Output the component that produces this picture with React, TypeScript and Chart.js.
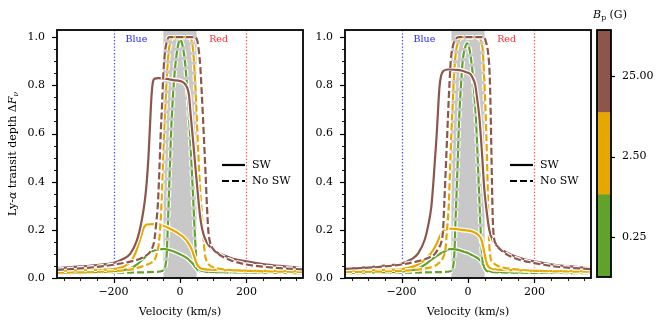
import React, { useEffect, useRef } from 'react';
import Chart from 'chart.js/auto';

type Pt = [number, number];

const FONT = "'DejaVu Serif', 'Liberation Serif', serif";

// ---------- data ----------
const X_MIN = -370;
const X_MAX = 370;
const Y_MIN = 0;
const Y_MAX = 1.03;
const X_MAJOR = [-200, 0, 200];
const Y_MAJOR = [0, 0.2, 0.4, 0.6, 0.8, 1.0];
const CORE_BAND: Pt = [-50, 50];
const BLUE_LINE = -200;
const RED_LINE = 200;

const B_LEVELS = ['0.25', '2.50', '25.00'];
const B_COLORS = ['#61a22a', '#e6a800', '#8c564b'];
const CBAR_BOUNDS = [0.08, 0.84, 8.8, 93];
const CBAR_TICKS = [0.25, 2.5, 25];

// Left panel
const L_SW_LOW: Pt[] = [[-370,0.022],[-250,0.025],[-200,0.028],[-150,0.04],[-130,0.055],[-110,0.08],[-90,0.105],[-75,0.115],[-60,0.12],[-45,0.12],[-30,0.115],[-10,0.105],[10,0.092],[25,0.078],[38,0.06],[48,0.042],[56,0.03],[70,0.026],[150,0.023],[370,0.02]];
const L_NOSW_LOW: Pt[] = [[-370,0.02],[-200,0.022],[-100,0.024],[-60,0.027],[-50,0.032],[-44,0.05],[-40,0.1],[-37,0.2],[-34,0.32],[-30,0.48],[-26,0.63],[-21,0.76],[-15,0.87],[-8,0.95],[0,0.99],[7,0.97],[14,0.91],[20,0.82],[25,0.72],[30,0.6],[35,0.46],[40,0.32],[44,0.2],[48,0.1],[52,0.05],[58,0.035],[70,0.028],[150,0.024],[370,0.02]];
const L_SW_MID: Pt[] = [[-370,0.03],[-300,0.032],[-250,0.034],[-200,0.037],[-170,0.047],[-150,0.065],[-135,0.1],[-120,0.16],[-110,0.205],[-100,0.222],[-80,0.224],[-65,0.222],[-50,0.217],[-30,0.205],[-10,0.19],[10,0.17],[25,0.145],[35,0.12],[45,0.08],[52,0.055],[60,0.042],[75,0.036],[100,0.034],[200,0.031],[370,0.028]];
const L_NOSW_MID: Pt[] = [[-370,0.022],[-250,0.025],[-200,0.028],[-150,0.035],[-120,0.045],[-100,0.055],[-85,0.065],[-75,0.08],[-68,0.11],[-64,0.14],[-60,0.2],[-56,0.3],[-52,0.45],[-48,0.6],[-44,0.72],[-39,0.85],[-34,0.94],[-28,0.99],[-22,1.0],[30,1.0],[36,0.98],[41,0.92],[46,0.8],[50,0.68],[55,0.52],[60,0.38],[64,0.3],[68,0.22],[72,0.14],[76,0.09],[82,0.065],[90,0.052],[100,0.045],[130,0.036],[200,0.03],[370,0.025]];
const L_SW_HIGH: Pt[] = [[-370,0.041],[-300,0.048],[-250,0.054],[-200,0.063],[-170,0.08],[-150,0.1],[-130,0.155],[-115,0.24],[-105,0.33],[-100,0.4],[-95,0.5],[-90,0.64],[-86,0.75],[-82,0.81],[-76,0.828],[-65,0.83],[-40,0.827],[-20,0.822],[0,0.818],[10,0.812],[20,0.795],[27,0.76],[32,0.68],[40,0.56],[47,0.45],[55,0.33],[62,0.24],[70,0.185],[80,0.15],[90,0.13],[100,0.115],[130,0.095],[160,0.08],[200,0.069],[250,0.058],[300,0.05],[370,0.041]];
const L_NOSW_HIGH: Pt[] = [[-370,0.034],[-300,0.04],[-250,0.046],[-200,0.055],[-150,0.068],[-120,0.08],[-100,0.095],[-85,0.12],[-78,0.15],[-72,0.22],[-66,0.32],[-62,0.45],[-58,0.6],[-54,0.72],[-50,0.85],[-45,0.94],[-40,0.98],[-33,1.0],[45,1.0],[52,0.985],[57,0.94],[61,0.88],[65,0.78],[69,0.67],[73,0.55],[77,0.43],[81,0.3],[85,0.2],[90,0.15],[100,0.12],[115,0.1],[150,0.075],[200,0.056],[250,0.047],[300,0.041],[370,0.036]];

// Right panel
const R_SW_LOW: Pt[] = [[-370,0.022],[-250,0.024],[-200,0.027],[-150,0.04],[-130,0.055],[-110,0.076],[-90,0.095],[-70,0.11],[-55,0.12],[-45,0.12],[-30,0.117],[-10,0.108],[0,0.104],[15,0.093],[30,0.082],[40,0.068],[48,0.05],[55,0.036],[65,0.028],[100,0.025],[370,0.022]];
const R_NOSW_LOW: Pt[] = [[-370,0.02],[-200,0.022],[-100,0.024],[-60,0.026],[-50,0.03],[-45,0.045],[-41,0.1],[-38,0.22],[-35,0.33],[-31,0.48],[-27,0.65],[-22,0.78],[-16,0.9],[-9,0.955],[-3,0.975],[3,0.96],[9,0.91],[14,0.85],[19,0.76],[24,0.66],[29,0.5],[34,0.33],[38,0.2],[42,0.1],[45,0.06],[50,0.04],[56,0.03],[70,0.025],[150,0.022],[370,0.02]];
const R_SW_MID: Pt[] = [[-370,0.03],[-300,0.032],[-250,0.034],[-200,0.037],[-170,0.045],[-150,0.056],[-130,0.075],[-110,0.105],[-95,0.14],[-82,0.18],[-70,0.2],[-58,0.205],[-40,0.204],[-20,0.2],[0,0.197],[15,0.192],[30,0.18],[40,0.16],[47,0.12],[52,0.085],[58,0.055],[68,0.04],[90,0.035],[150,0.032],[370,0.028]];
const R_NOSW_MID: Pt[] = [[-370,0.025],[-250,0.027],[-200,0.03],[-150,0.035],[-120,0.042],[-100,0.05],[-85,0.065],[-75,0.085],[-68,0.12],[-63,0.2],[-58,0.3],[-54,0.45],[-50,0.6],[-46,0.72],[-42,0.84],[-37,0.93],[-30,0.98],[-22,0.997],[-15,1.0],[33,1.0],[40,0.98],[44,0.95],[48,0.85],[52,0.72],[55,0.6],[58,0.45],[60,0.33],[62,0.22],[64,0.14],[67,0.09],[75,0.065],[90,0.05],[110,0.042],[150,0.035],[200,0.03],[370,0.026]];
const R_SW_HIGH: Pt[] = [[-370,0.038],[-300,0.045],[-250,0.052],[-200,0.06],[-170,0.078],[-150,0.102],[-130,0.16],[-118,0.23],[-110,0.3],[-104,0.4],[-99,0.5],[-94,0.6],[-90,0.7],[-86,0.79],[-81,0.84],[-74,0.86],[-60,0.866],[-40,0.865],[-20,0.862],[-5,0.855],[8,0.845],[16,0.825],[22,0.8],[28,0.74],[34,0.67],[42,0.52],[49,0.37],[55,0.29],[64,0.2],[75,0.155],[90,0.13],[110,0.11],[130,0.097],[160,0.082],[200,0.069],[250,0.057],[300,0.049],[370,0.041]];
const R_NOSW_HIGH: Pt[] = [[-370,0.038],[-300,0.043],[-250,0.048],[-200,0.056],[-150,0.07],[-120,0.083],[-100,0.1],[-88,0.125],[-80,0.15],[-75,0.2],[-71,0.32],[-67,0.45],[-63,0.58],[-60,0.68],[-56,0.8],[-52,0.9],[-46,0.96],[-38,0.99],[-28,1.0],[48,1.0],[54,0.98],[60,0.94],[65,0.85],[68,0.7],[70,0.55],[72,0.4],[74,0.27],[77,0.18],[85,0.14],[100,0.115],[120,0.095],[150,0.078],[200,0.062],[250,0.05],[300,0.043],[370,0.037]];

const LEFT_SERIES = [
  { sw: L_SW_LOW, nosw: L_NOSW_LOW },
  { sw: L_SW_MID, nosw: L_NOSW_MID },
  { sw: L_SW_HIGH, nosw: L_NOSW_HIGH },
];
const RIGHT_SERIES = [
  { sw: R_SW_LOW, nosw: R_NOSW_LOW },
  { sw: R_SW_MID, nosw: R_NOSW_MID },
  { sw: R_SW_HIGH, nosw: R_NOSW_HIGH },
];

// ---------- styling ----------
const TICK_SIZE = 11;
const LINE_W = 2.2;
const HALO_W = 4.6;
const DASH = [7, 3];

type Part = { t: string; italic?: boolean; sub?: boolean };

function drawRich(ctx: CanvasRenderingContext2D, parts: Part[], x: number, y: number, size: number, rotate: boolean) {
  ctx.save();
  ctx.translate(x, y);
  if (rotate) ctx.rotate(-Math.PI / 2);
  const fontFor = (p: Part) => `${p.italic ? 'italic ' : ''}${p.sub ? size * 0.7 : size}px ${FONT}`;
  let total = 0;
  const widths = parts.map((p) => {
    ctx.font = fontFor(p);
    const w = ctx.measureText(p.t).width;
    total += w;
    return w;
  });
  let cx = -total / 2;
  ctx.textBaseline = 'middle';
  ctx.textAlign = 'left';
  ctx.fillStyle = '#000';
  parts.forEach((p, i) => {
    ctx.font = fontFor(p);
    ctx.fillText(p.t, cx, p.sub ? size * 0.28 : 0);
    cx += widths[i];
  });
  ctx.restore();
}

function toXY(pts: Pt[]) {
  return pts.map(([x, y]) => ({ x, y }));
}

function buildDatasets(series: { sw: Pt[]; nosw: Pt[] }[]) {
  const ds: any[] = [];
  let order = 100;
  series.forEach((s, i) => {
    const color = B_COLORS[i];
    [
      { pts: s.sw, dash: [] as number[] },
      { pts: s.nosw, dash: DASH },
    ].forEach((ln) => {
      const common = {
        data: toXY(ln.pts),
        pointRadius: 0,
        cubicInterpolationMode: 'monotone',
        borderDash: ln.dash,
        borderCapStyle: 'butt',
        borderJoinStyle: 'round',
        fill: false,
      };
      ds.push({ ...common, borderColor: '#ffffff', borderWidth: HALO_W, order: order-- });
      ds.push({ ...common, borderColor: color, borderWidth: LINE_W, order: order-- });
    });
  });
  return ds;
}

const panelPlugin = (showYTitle: boolean) => ({
  id: 'panelDecor',
  beforeDatasetsDraw(chart: any) {
    const { ctx, chartArea: a, scales } = chart;
    const xs = scales.x;
    const ys = scales.y;
    ctx.save();
    ctx.beginPath();
    ctx.rect(a.left, a.top, a.right - a.left, a.bottom - a.top);
    ctx.clip();
    const x0 = xs.getPixelForValue(CORE_BAND[0]);
    const x1 = xs.getPixelForValue(CORE_BAND[1]);
    ctx.fillStyle = '#c8c8c8';
    ctx.fillRect(x0, a.top, x1 - x0, a.bottom - a.top);
    ctx.lineWidth = 1.3;
    ctx.setLineDash([1.3, 2]);
    [[BLUE_LINE, 'rgba(50,50,255,0.9)'], [RED_LINE, 'rgba(255,60,60,0.9)']].forEach(([v, c]) => {
      const px = Math.round(xs.getPixelForValue(v as number)) + 0.5;
      ctx.strokeStyle = c as string;
      ctx.beginPath();
      ctx.moveTo(px, a.top);
      ctx.lineTo(px, a.bottom);
      ctx.stroke();
    });
    ctx.setLineDash([]);
    ctx.font = `9.5px ${FONT}`;
    ctx.textAlign = 'center';
    ctx.textBaseline = 'middle';
    ctx.fillStyle = '#1f1fff';
    ctx.fillText('Blue', xs.getPixelForValue(-131), ys.getPixelForValue(0.99));
    ctx.fillStyle = '#ff2f2f';
    ctx.fillText('Red', xs.getPixelForValue(116), ys.getPixelForValue(0.99));
    ctx.restore();
  },
  afterDraw(chart: any) {
    const { ctx, chartArea: a, scales } = chart;
    const xs = scales.x;
    const ys = scales.y;
    ctx.save();
    // ticks
    ctx.strokeStyle = '#000';
    for (let i = -7; i <= 7; i++) {
      const v = i * 50;
      const px = Math.round(xs.getPixelForValue(v)) + 0.5;
      const major = v % 200 === 0;
      ctx.lineWidth = major ? 1.2 : 0.9;
      ctx.beginPath();
      ctx.moveTo(px, a.bottom);
      ctx.lineTo(px, a.bottom + (major ? 5 : 3));
      ctx.stroke();
    }
    for (let i = 0; i <= 20; i++) {
      const v = i * 0.05;
      const py = Math.round(ys.getPixelForValue(v)) + 0.5;
      const major = i % 4 === 0;
      ctx.lineWidth = major ? 1.2 : 0.9;
      ctx.beginPath();
      ctx.moveTo(a.left, py);
      ctx.lineTo(a.left - (major ? 5 : 3), py);
      ctx.stroke();
    }
    // frame
    ctx.lineWidth = 1.8;
    ctx.strokeRect(a.left, a.top, a.right - a.left, a.bottom - a.top);
    // legend
    const lx0 = a.right - 81;
    const lx1 = a.right - 58;
    const ly = [a.top + 135, a.top + 151];
    ctx.lineWidth = 2.2;
    ctx.strokeStyle = '#000';
    ctx.beginPath();
    ctx.moveTo(lx0, ly[0]);
    ctx.lineTo(lx1, ly[0]);
    ctx.stroke();
    ctx.setLineDash(DASH);
    ctx.beginPath();
    ctx.moveTo(lx0, ly[1]);
    ctx.lineTo(lx1, ly[1]);
    ctx.stroke();
    ctx.setLineDash([]);
    ctx.fillStyle = '#000';
    ctx.font = `${TICK_SIZE}px ${FONT}`;
    ctx.textAlign = 'left';
    ctx.textBaseline = 'middle';
    ctx.fillText('SW', a.right - 51, ly[0]);
    ctx.fillText('No SW', a.right - 51, ly[1]);
    ctx.restore();
    // titles
    drawRich(ctx, [{ t: 'Velocity (km/s)' }], (a.left + a.right) / 2, 312, TICK_SIZE, false);
    if (showYTitle) {
      drawRich(
        ctx,
        [
          { t: 'Ly-' },
          { t: 'α', italic: true },
          { t: ' transit depth Δ' },
          { t: 'F', italic: true },
          { t: 'ν', italic: true, sub: true },
        ],
        13,
        (a.top + a.bottom) / 2,
        TICK_SIZE,
        true
      );
    }
  },
});

function panelConfig(series: { sw: Pt[]; nosw: Pt[] }[], showYTitle: boolean): any {
  return {
    type: 'line',
    data: { datasets: buildDatasets(series) },
    options: {
      responsive: false,
      animation: false,
      events: [],
      layout: { padding: { left: 0, right: 12, top: 30, bottom: 0 } },
      plugins: { legend: { display: false }, tooltip: { enabled: false } },
      scales: {
        x: {
          type: 'linear',
          min: X_MIN,
          max: X_MAX,
          afterFit: (s: any) => { s.height = 50; },
          afterBuildTicks: (s: any) => { s.ticks = X_MAJOR.map((v) => ({ value: v })); },
          grid: { display: true, drawOnChartArea: false, color: 'rgba(0,0,0,0)', tickLength: 5 },
          border: { display: false },
          ticks: {
            color: '#000',
            font: { family: FONT, size: TICK_SIZE },
            padding: 3,
            maxRotation: 0,
            callback: (v: number) => (v < 0 ? '\u2212' + Math.abs(v) : String(v)),
          },
        },
        y: {
          type: 'linear',
          min: Y_MIN,
          max: Y_MAX,
          afterFit: (s: any) => { s.width = 57; },
          afterBuildTicks: (s: any) => { s.ticks = Y_MAJOR.map((v) => ({ value: v })); },
          grid: { display: true, drawOnChartArea: false, color: 'rgba(0,0,0,0)', tickLength: 5 },
          border: { display: false },
          ticks: {
            color: '#000',
            font: { family: FONT, size: TICK_SIZE },
            padding: 7,
            callback: (v: number) => v.toFixed(1),
          },
        },
      },
    },
    plugins: [panelPlugin(showYTitle)],
  };
}

function cbarConfig(): any {
  return {
    type: 'bar',
    data: {
      labels: [''],
      datasets: B_COLORS.map((c, i) => ({
        data: [[CBAR_BOUNDS[i], CBAR_BOUNDS[i + 1]]],
        backgroundColor: c,
        borderWidth: 0,
        barPercentage: 1,
        categoryPercentage: 1,
        grouped: false,
      })),
    },
    options: {
      responsive: false,
      animation: false,
      events: [],
      layout: { padding: { left: 7, right: 0, top: 30, bottom: 51 } },
      plugins: { legend: { display: false }, tooltip: { enabled: false } },
      scales: {
        x: { display: false },
        y: {
          type: 'logarithmic',
          position: 'right',
          min: CBAR_BOUNDS[0],
          max: CBAR_BOUNDS[3],
          afterFit: (s: any) => { s.width = 53; },
          afterBuildTicks: (s: any) => { s.ticks = CBAR_TICKS.map((v) => ({ value: v })); },
          grid: { display: true, drawOnChartArea: false, color: 'rgba(0,0,0,0)', tickLength: 4 },
          border: { display: false },
          ticks: {
            color: '#000',
            font: { family: FONT, size: TICK_SIZE },
            padding: 7,
            callback: (_v: number, i: number) => B_LEVELS[i],
          },
        },
      },
    },
    plugins: [
      {
        id: 'cbarDecor',
        afterDraw(chart: any) {
          const { ctx, chartArea: a, scales } = chart;
          ctx.save();
          ctx.strokeStyle = '#000';
          ctx.lineWidth = 1.2;
          CBAR_TICKS.forEach((v) => {
            const py = Math.round(scales.y.getPixelForValue(v)) + 0.5;
            ctx.beginPath();
            ctx.moveTo(a.right, py);
            ctx.lineTo(a.right + 4, py);
            ctx.stroke();
          });
          ctx.lineWidth = 1.8;
          ctx.strokeRect(a.left, a.top, a.right - a.left, a.bottom - a.top);
          ctx.restore();
          drawRich(
            ctx,
            [{ t: 'B', italic: true }, { t: 'p', sub: true }, { t: ' (G)' }],
            (a.left + a.right) / 2 + 6,
            15,
            TICK_SIZE,
            false
          );
        },
      },
    ],
  };
}

export default function App() {
  const leftRef = useRef<HTMLCanvasElement>(null);
  const rightRef = useRef<HTMLCanvasElement>(null);
  const cbarRef = useRef<HTMLCanvasElement>(null);

  useEffect(() => {
    document.body.style.margin = '0';
    const charts: Chart[] = [];
    if (leftRef.current) charts.push(new Chart(leftRef.current, panelConfig(LEFT_SERIES, true)));
    if (rightRef.current) charts.push(new Chart(rightRef.current, panelConfig(RIGHT_SERIES, false)));
    if (cbarRef.current) charts.push(new Chart(cbarRef.current, cbarConfig()));
    return () => charts.forEach((c) => c.destroy());
  }, []);

  return (
    <div style={{ position: 'fixed', left: 0, top: 0, width: 664, height: 328, background: '#fff' }}>
      <canvas ref={leftRef} width={315} height={328} style={{ position: 'absolute', left: 0, top: 0, width: 315, height: 328 }} />
      <canvas ref={rightRef} width={315} height={328} style={{ position: 'absolute', left: 288, top: 0, width: 315, height: 328 }} />
      <canvas ref={cbarRef} width={74} height={328} style={{ position: 'absolute', left: 590, top: 0, width: 74, height: 328 }} />
    </div>
  );
}
